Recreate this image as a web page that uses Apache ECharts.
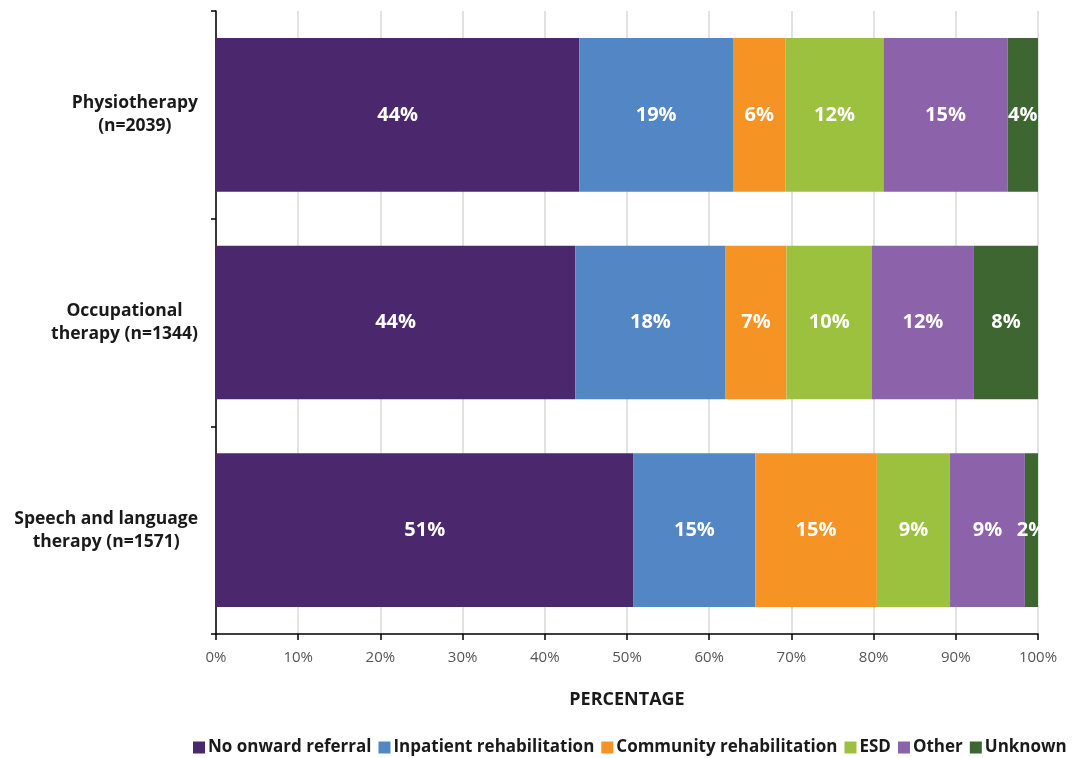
<!DOCTYPE html>
<html>
<head>
<meta charset="utf-8">
<script src="https://cdn.jsdelivr.net/npm/echarts@6/dist/echarts.min.js"></script>
<style>html,body{margin:0;padding:0;background:#fff}#c{width:1086px;height:758px}</style>
</head>
<body>
<div id="c"></div>
<script>
const categories = ['Physiotherapy\n(n=2039)', 'Occupational\ntherapy (n=1344)', 'Speech and language\ntherapy (n=1571)'];
const seriesNames = ['No onward referral', 'Inpatient rehabilitation', 'Community rehabilitation', 'ESD', 'Other', 'Unknown'];
const noOnward = [44.2, 43.7, 50.8];
const inpatient = [18.7, 18.3, 14.8];
const community = [6.4, 7.4, 14.8];
const esd = [11.9, 10.4, 8.9];
const other = [15.1, 12.4, 9.1];
const unknown = [3.7, 7.8, 1.6];
const colors = ['#4B286D', '#5286C5', '#F59324', '#9BC13F', '#8C62AA', '#3D6630'];
const xTicks = [0, 10, 20, 30, 40, 50, 60, 70, 80, 90, 100];

const values = [noOnward, inpatient, community, esd, other, unknown];
const FONT = '"Open Sans", Lato, sans-serif';

const chart = echarts.init(document.getElementById('c'));
chart.setOption({
  animation: false,
  textStyle: { fontFamily: FONT },
  grid: { left: 216, right: 48, top: 11, bottom: 124 },
  legend: {
    bottom: -3, left: 188,
    itemWidth: 12, itemHeight: 12, itemGap: 7,
    icon: 'rect',
    textStyle: { fontFamily: FONT, fontWeight: 'bold', fontSize: 17, color: '#1a1a1a', padding: [0, 0, 0, -2] },
    data: seriesNames
  },
  xAxis: {
    type: 'value', min: xTicks[0], max: xTicks[xTicks.length - 1], interval: 10,
    name: 'PERCENTAGE', nameLocation: 'middle', nameGap: 57,
    nameTextStyle: { fontFamily: FONT, fontWeight: 'bold', fontSize: 18, color: '#1a1a1a' },
    axisLine: { show: true, lineStyle: { color: '#000', width: 1.5 } },
    axisTick: { show: true, length: 6, lineStyle: { color: '#000', width: 1.5 } },
    axisLabel: { formatter: '{value}%', fontSize: 15, color: '#555', margin: 16, fontFamily: FONT },
    splitLine: { show: true, lineStyle: { color: '#d9d9d9', width: 1.5 } }
  },
  yAxis: {
    type: 'category', inverse: true, data: categories,
    axisLine: { show: true, lineStyle: { color: '#000', width: 1.5 } },
    axisTick: { show: true, length: 5, lineStyle: { color: '#000', width: 1.5 } },
    axisLabel: {
      fontSize: 17.5, fontWeight: 'bold', color: '#1a1a1a', margin: 18, align: 'right', fontFamily: FONT,
      formatter: v => v.split('\n').map(s => '{c|' + s + '}').join('\n'),
      rich: { c: { align: 'center', fontSize: 17.5, fontWeight: 'bold', color: '#1a1a1a', lineHeight: 23, fontFamily: FONT } }
    },
    splitLine: { show: false }
  },
  series: seriesNames.map((n, i) => ({
    name: n, type: 'bar', stack: 'total', barWidth: '74%',
    itemStyle: { color: colors[i] },
    label: {
      show: true, position: 'inside', color: '#fff', fontWeight: 'bold', fontSize: 20, fontFamily: FONT,
      offset: [0, 2],
      formatter: p => Math.round(p.value) + '%'
    },
    labelLayout: { hideOverlap: false },
    data: values[i]
  }))
});
</script>
</body>
</html>
